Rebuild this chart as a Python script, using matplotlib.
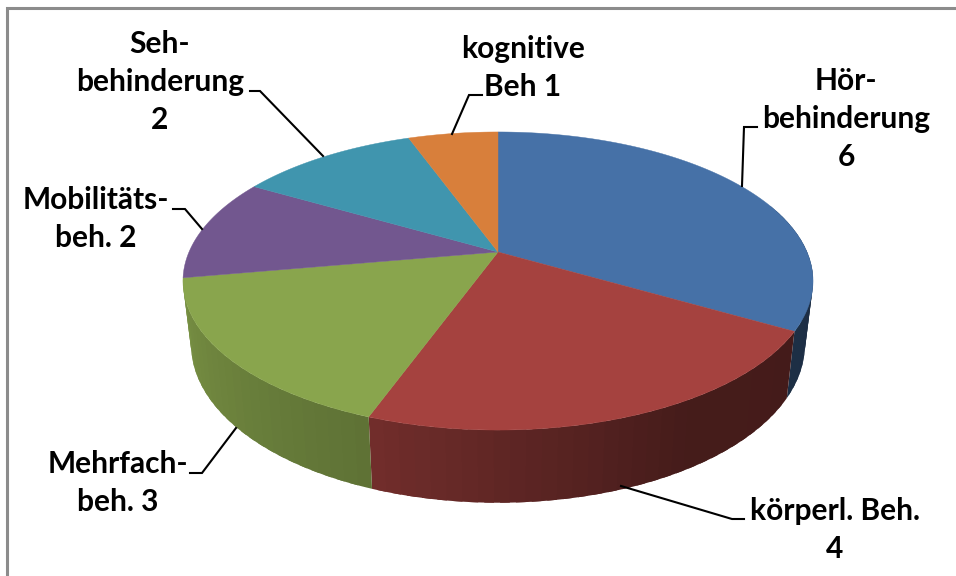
import numpy as np
import matplotlib
matplotlib.use('Agg')
import matplotlib.pyplot as plt
from matplotlib.collections import PolyCollection

plt.rcParams['font.family'] = ['Lato', 'DejaVu Sans']

labels = ['Hör-\nbehinderung\n6', 'körperl. Beh.\n4', 'Mehrfach-\nbeh. 3',
          'Mobilitäts-\nbeh. 2', 'Seh-\nbehinderung\n2', 'kognitive\nBeh 1']
values = [6, 4, 3, 2, 2, 1]
colors = ['#4671A7', '#A5423F', '#89A54D', '#72578F', '#4095AE', '#D87F3B']

# label anchor (centre of text block) and leader line, in pixels
label_pos = [(846, 119), (835, 530), (118, 483), (96, 219), (160, 82), (523, 68)]
leaders = [
    [(742, 186), (744, 127), (757, 127)],
    [(621, 486), (732, 519), (744, 519)],
    [(236, 428), (202, 473), (190, 473)],
    [(202, 229), (185, 209), (173, 209)],
    [(323, 156), (260, 91), (250, 91)],
    [(452, 134), (469, 95), (482, 95)],
]

# side wall brightness by angle (clockwise from top)
shade_ang = [60, 150, 200, 260, 300]
shade_val = [0.40, 0.42, 0.69, 0.88, 0.90]


def top_xy(theta):
    # perspective projection of the top disc
    t = np.radians(theta)
    u, v = np.sin(t), np.cos(t)
    w = 1 + 0.1946 * v
    return 498 + 309 * u / w, 252 - 143.4 * v / w


def bottom_xy(theta):
    t = np.radians(theta)
    u, v = np.sin(t), np.cos(t)
    w = 1 + 0.1946 * v
    return 498 + 301 * u / w, 314 - 152 * v / w


fig = plt.figure(figsize=(9.56, 5.76), dpi=100)
ax = fig.add_axes([0, 0, 1, 1])
ax.set_xlim(0, 956)
ax.set_ylim(576, 0)
ax.axis('off')

# grey frame, only left and top show
ax.plot([7, 7, 956], [576, 8, 8], color='#8c8c8c', lw=2.2, solid_joinstyle='miter')

edges = np.concatenate([[0], np.cumsum(values)]) / np.sum(values) * 360

# side walls first, each strip overlaps the next so no seams show
for i, col in enumerate(colors):
    a0, a1 = max(edges[i], 70), min(edges[i + 1], 260)
    if a1 <= a0 + 1:
        continue
    ang = np.linspace(a0, a1, int((a1 - a0) / 2.5) + 2)
    polys, cols = [], []
    base = np.array(matplotlib.colors.to_rgb(col))
    for p, q in zip(ang[:-1], ang[1:]):
        q2 = min(q + 1.5, a1)
        x0, y0 = top_xy(np.linspace(p, q2, 5))
        x1, y1 = bottom_xy(np.linspace(q2, p, 5))
        polys.append(np.c_[np.r_[x0, x1], np.r_[y0, y1]])
        cols.append(base * np.interp((p + q) / 2, shade_ang, shade_val))
    ax.add_collection(PolyCollection(polys, facecolors=cols, edgecolors='none'))

# top surface
for i, col in enumerate(colors):
    ang = np.linspace(edges[i], edges[i + 1], 120)
    xs, ys = top_xy(ang)
    ax.fill(np.r_[498, xs], np.r_[252, ys], color=col, lw=0.3)

for pts in leaders:
    ax.plot(*zip(*pts), color='black', lw=1.5, solid_joinstyle='miter')

for text, (x, y) in zip(labels, label_pos):
    ax.text(x, y, text, ha='center', va='center', fontsize=21.5, fontweight='bold',
            color='black', linespacing=1.42)

fig.savefig('out.png', dpi=100)
